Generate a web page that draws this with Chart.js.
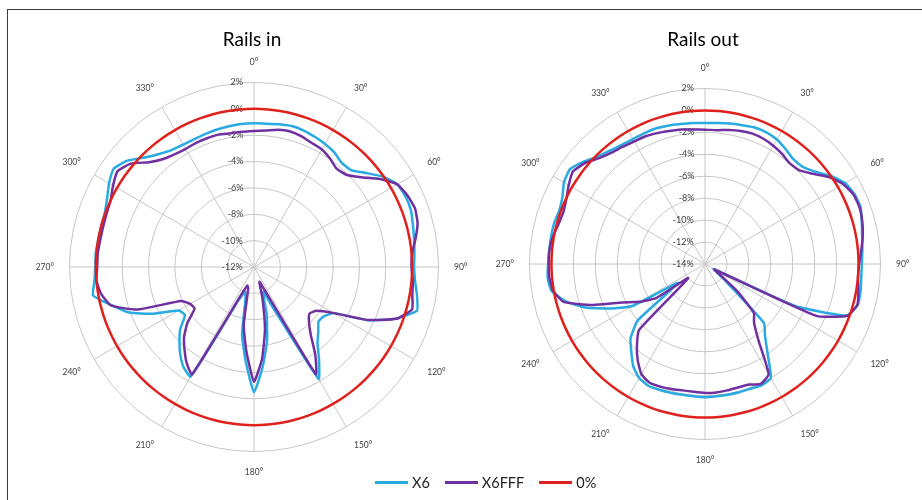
<!DOCTYPE html>
<html>
<head>
<meta charset="utf-8">
<title>Rails in / Rails out</title>
<script src="https://cdn.jsdelivr.net/npm/chart.js@4.4.1/dist/chart.umd.min.js"></script>
<style>
  body { margin: 0; width: 922px; height: 500px; overflow: hidden; background: #fff; position: relative; font-family: Lato, "Open Sans", sans-serif; }
  #frame { position: absolute; left: 7px; top: 9px; right: 0; bottom: 0; border-top: 1px solid #3a3a3a; border-left: 1px solid #3a3a3a; }
  .box { position: absolute; }
  #legend { position: absolute; left: 375px; top: 472px; height: 20px; display: flex; align-items: center; font-size: 14.5px; color: #222; }
  #legend span { display: flex; align-items: center; margin-right: 15px; }
  #legend i { display: inline-block; width: 33px; height: 3px; margin-right: 4px; }
</style>
</head>
<body>
<div id="frame"></div>
<div class="box" style="left:20px; top:15px; width:464px; height:463px"><canvas id="railsIn"></canvas></div>
<div class="box" style="left:484px; top:21px; width:438px; height:445px"><canvas id="railsOut"></canvas></div>
<div id="legend">
  <span><i style="background:#29abe2"></i>X6</span>
  <span><i style="background:#7030a0"></i>X6FFF</span>
  <span><i style="background:#e0201c"></i>0%</span>
</div>
<script>
// angles every 5 degrees, only multiples of 30 get a label drawn
const angleLabels = Array.from({ length: 72 }, (_, i) => (i * 5) + '°');

// Rails in, values in % from 0° clockwise
const railsInX6 = [
  -1.1, -1.08, -1.0, -0.93, -0.98, -1.1, -1.22, -1.38, -1.66, -1.6,
  -0.9, -0.05, 0.55, 0.68, 0.66, 0.48, 0.33, 0.22, 0.15, 0.27,
  0.56, 0.8, -0.55, -2.45, -5.0, -5.5, -5.6, -5.1, -4.5, -3.4,
  -2.2, -8.6, -10.0, -8.3, -6.3, -4.4, -2.5, -4.8, -6.8, -9.5,
  -10.0, -9.2, -2.4, -2.7, -3.3, -4.0, -4.7, -5.6, -5.4, -3.6,
  -1.9, -0.8, 0.4, 0.15, 0.05, 0.05, 0.0, 0.0, 0.05, 0.3,
  0.7, 1.0, 0.55, -0.25, -0.8, -1.15, -1.27, -1.3, -1.25, -1.2,
  -1.15, -1.1
];
const railsInX6FFF = [
  -1.68, -1.6, -1.42, -1.35, -1.45, -1.62, -1.7, -1.95, -2.25, -2.1,
  -1.4, -0.35, 0.55, 0.85, 1.0, 0.85, 0.45, 0.05, -0.05, 0.1,
  0.2, 0.42, -0.5, -2.5, -5.0, -6.2, -6.5, -6.1, -5.3, -3.9,
  -2.6, -10.0, -10.8, -9.5, -7.2, -5.0, -3.3, -5.5, -7.5, -10.3,
  -10.5, -9.6, -2.6, -3.1, -3.8, -4.5, -5.4, -6.5, -6.4, -5.9,
  -2.55, -0.75, -0.22, 0.0, -0.1, -0.1, -0.15, -0.15, -0.1, 0.0,
  0.35, 0.65, 0.2, -0.75, -1.3, -1.55, -1.65, -1.6, -1.6, -1.6,
  -1.7, -1.7
];

// Rails out
const railsOutX6 = [
  -1.15, -1.1, -1.0, -0.9, -0.75, -0.75, -0.9, -1.2, -1.5, -1.45,
  -0.9, 0.0, 0.75, 1.05, 1.1, 0.8, 0.55, 0.4, 0.3, 0.3,
  0.4, 0.42, -0.25, -5.0, -13.1, -12.7, -11.4, -6.4, -5.5, -4.05,
  -2.0, -1.8, -1.9, -1.9, -1.9, -1.9, -1.85, -1.9, -1.9, -1.85,
  -1.8, -1.75, -2.0, -2.6, -3.55, -4.4, -6.0, -11.0, -6.35, -4.4,
  -2.4, -0.85, 0.2, 0.4, 0.3, 0.25, 0.25, 0.25, 0.15, 0.35,
  0.85, 1.05, 0.5, -0.15, -0.5, -0.75, -0.85, -0.85, -0.85, -0.95,
  -1.05, -1.1
];
const railsOutX6FFF = [
  -1.75, -1.75, -1.6, -1.45, -1.35, -1.4, -1.55, -1.75, -2.0, -1.9,
  -1.2, -0.2, 0.55, 0.95, 1.0, 0.85, 0.6, 0.3, 0.05, 0.0,
  0.2, 0.38, -0.2, -2.8, -13.0, -12.5, -10.2, -7.7, -7.05, -5.5,
  -2.4, -1.95, -2.3, -2.35, -2.3, -2.25, -2.25, -2.3, -2.3, -2.2,
  -2.1, -2.05, -2.4, -3.3, -4.35, -5.5, -12.0, -8.6, -7.1, -5.7,
  -3.1, -0.65, 0.05, 0.25, 0.25, 0.25, 0.1, -0.15, -0.25, -0.05,
  0.35, 0.7, 0.3, -0.35, -0.75, -0.95, -1.1, -1.15, -1.3, -1.45,
  -1.55, -1.7
];

// the 0% reference circle
const zeroLine = [
  0, 0, 0, 0, 0, 0, 0, 0, 0, 0, 0, 0,
  0, 0, 0, 0, 0, 0, 0, 0, 0, 0, 0, 0,
  0, 0, 0, 0, 0, 0, 0, 0, 0, 0, 0, 0,
  0, 0, 0, 0, 0, 0, 0, 0, 0, 0, 0, 0,
  0, 0, 0, 0, 0, 0, 0, 0, 0, 0, 0, 0,
  0, 0, 0, 0, 0, 0, 0, 0, 0, 0, 0, 0
];

const gridColor = '#c6c6c6';
const textColor = '#404040';

// tick labels sit left of the 0° axis, so pad them with trailing spaces
const measure = document.createElement('canvas').getContext('2d');
function tickLabel(value) {
  const text = value + '%';
  measure.font = '9px Lato';
  const tw = measure.measureText(text).width;
  const sw = measure.measureText(' ').width;
  return text + ' '.repeat(Math.round((tw + 22) / sw));
}

function makePolar(id, title, x6, x6fff, min, titlePad) {
  return new Chart(document.getElementById(id), {
    type: 'radar',
    data: {
      labels: angleLabels,
      datasets: [
        { label: '0%', data: zeroLine, borderColor: '#e0201c', order: 1 },
        { label: 'X6FFF', data: x6fff, borderColor: '#7030a0', order: 2 },
        { label: 'X6', data: x6, borderColor: '#29abe2', order: 3 },
      ],
    },
    options: {
      responsive: true,
      maintainAspectRatio: false,
      animation: false,
      layout: { padding: 0 },
      elements: {
        point: { radius: 0 },
        line: { tension: 0.15, borderWidth: 2.5, fill: false },
      },
      plugins: {
        legend: { display: false },
        tooltip: { enabled: false },
        title: {
          display: true,
          text: title,
          color: '#000',
          font: { family: 'Lato', size: 19, weight: 'normal' },
          padding: titlePad,
        },
      },
      scales: {
        r: {
          min: min,
          max: 2,
          ticks: {
            stepSize: 2,
            showLabelBackdrop: false,
            color: textColor,
            font: { family: 'Lato', size: 9 },
            callback: tickLabel,
          },
          grid: { circular: true, color: gridColor },
          angleLines: {
            color: gridColor,
            lineWidth: (ctx) => (ctx.index % 6 === 0 ? 1 : 0),
          },
          pointLabels: {
            padding: 9,
            color: textColor,
            font: { family: 'Lato', size: 8.5 },
            callback: (label, i) => (i % 6 === 0 ? label : ''),
          },
        },
      },
    },
  });
}

makePolar('railsIn', 'Rails in', railsInX6, railsInX6FFF, -12, { top: 13, bottom: 6 });
makePolar('railsOut', 'Rails out', railsOutX6, railsOutX6FFF, -14, { top: 7, bottom: 12 });
</script>
</body>
</html>
